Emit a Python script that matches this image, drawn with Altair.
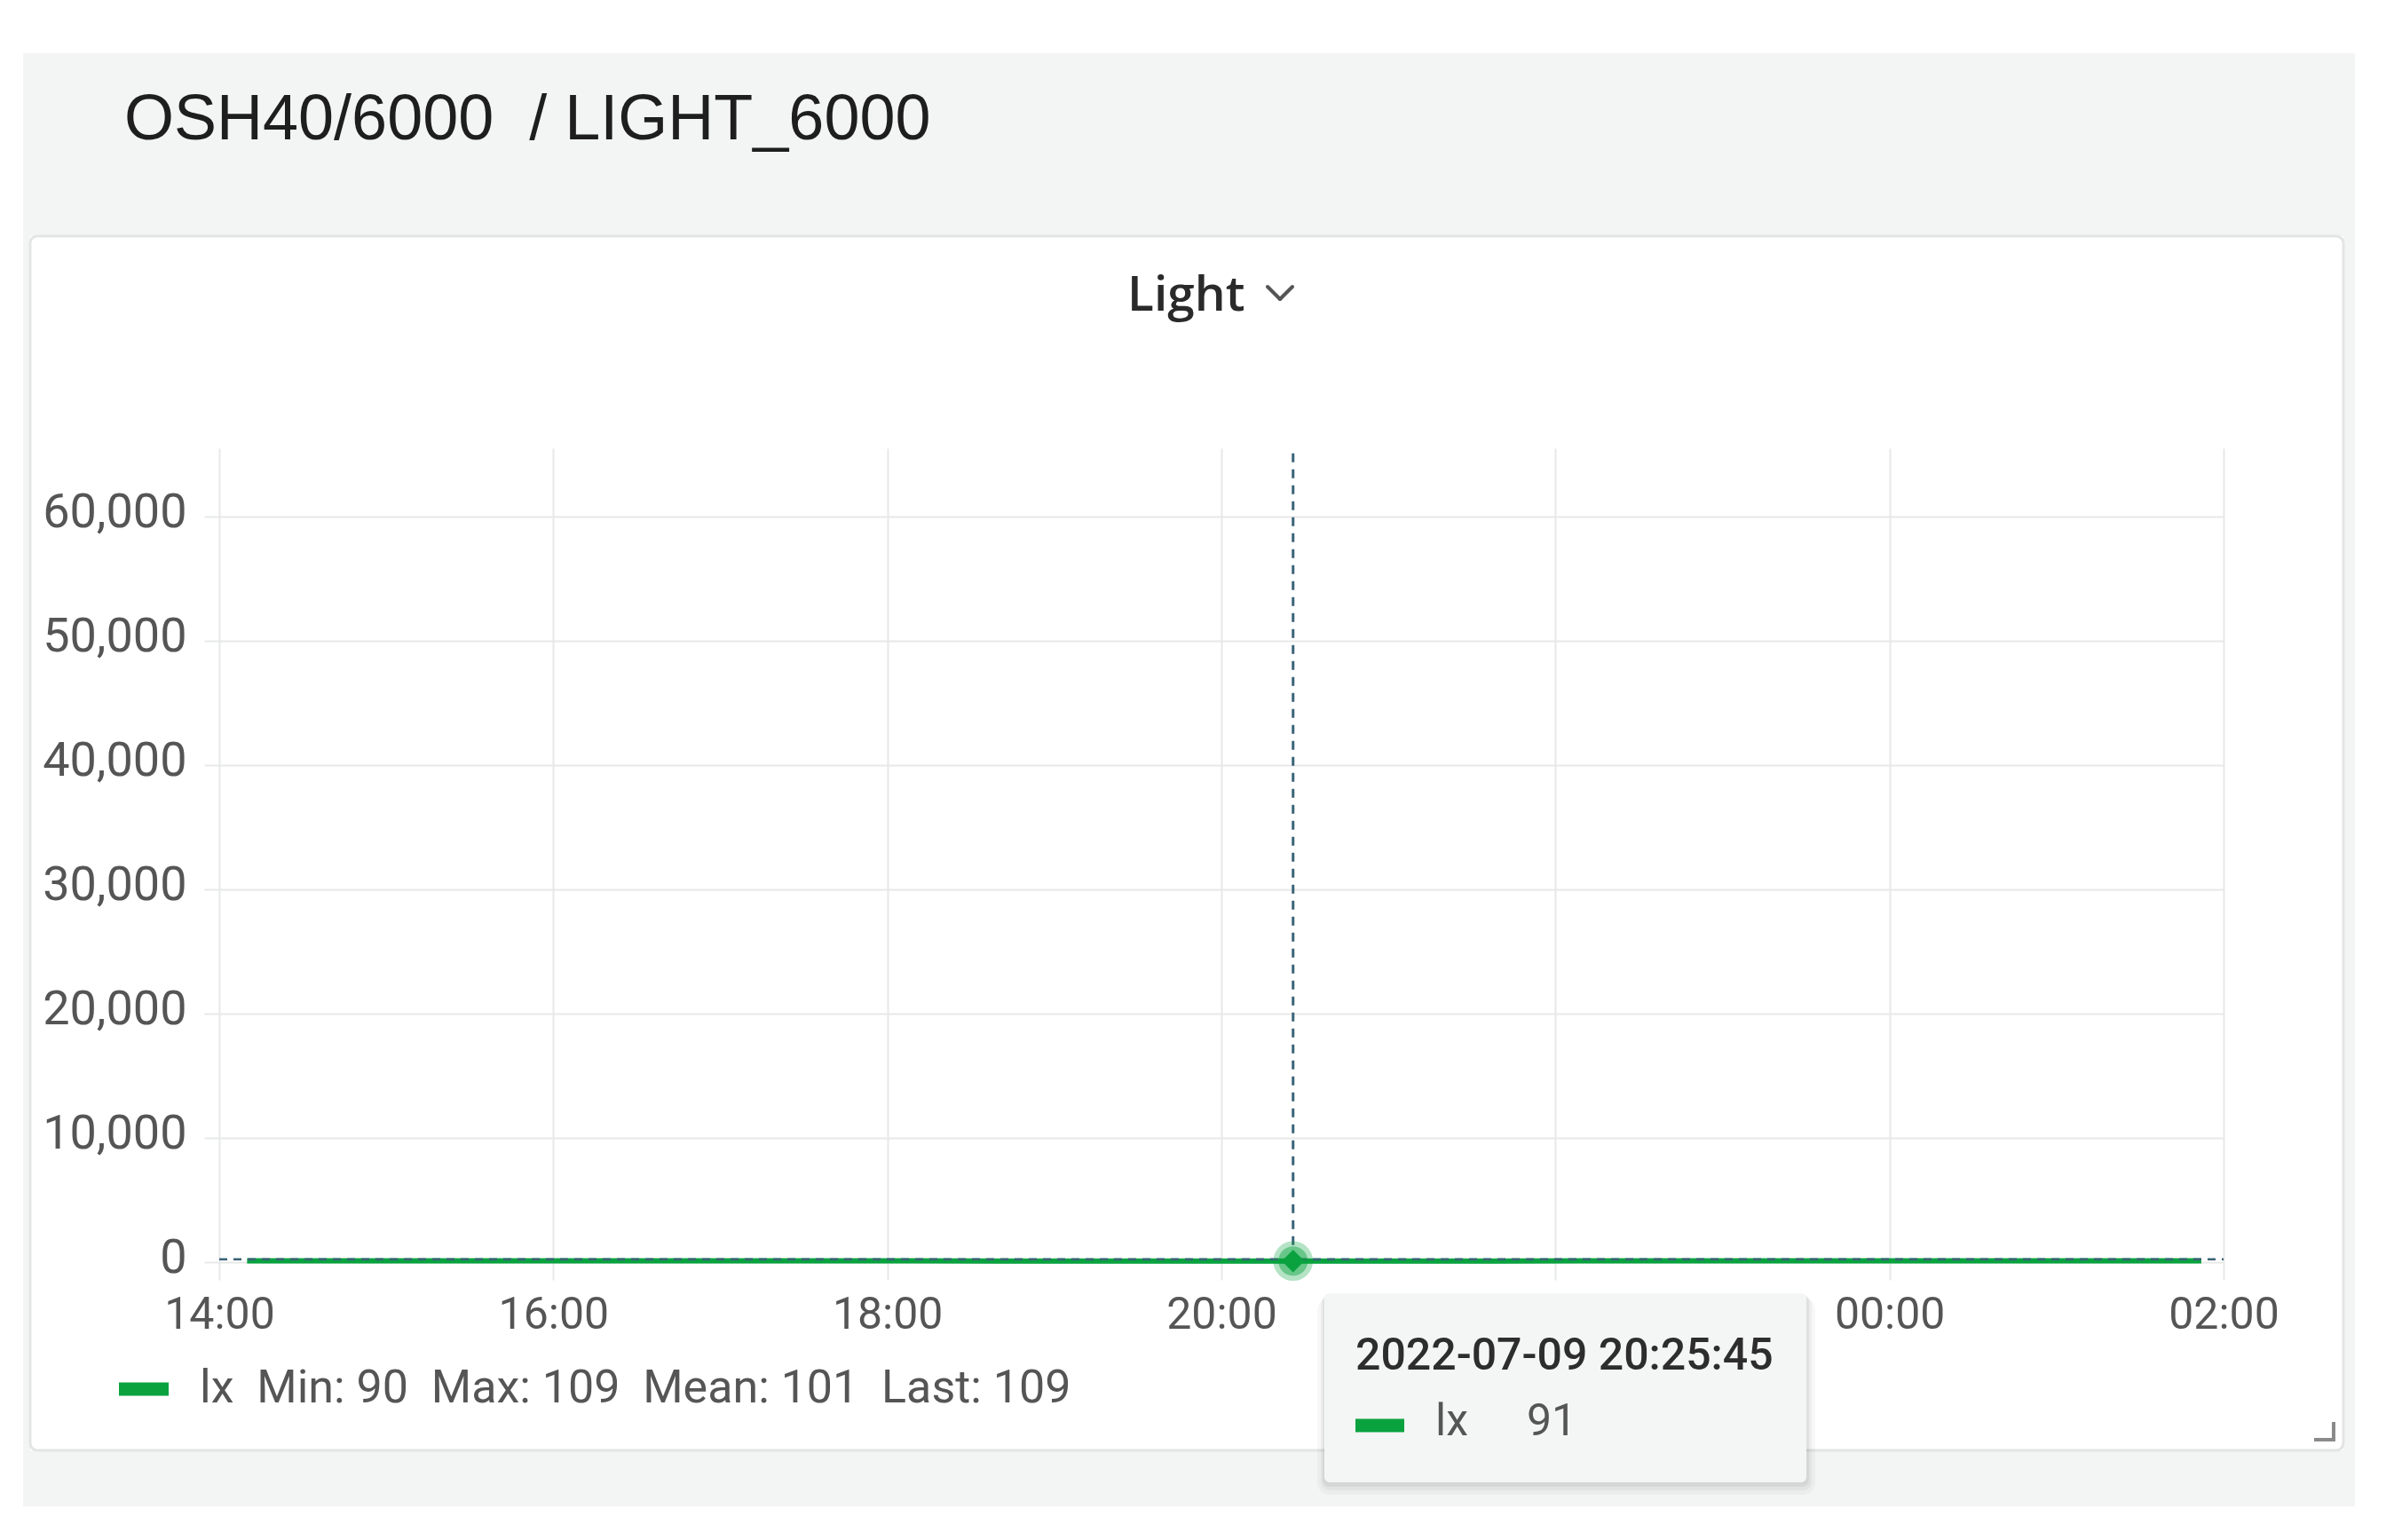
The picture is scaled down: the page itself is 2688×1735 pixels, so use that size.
import altair as alt
import pandas as pd

# ---------------- data ----------------
times = [
    "2022-07-09T14:10:00", "2022-07-09T14:40:00", "2022-07-09T15:10:00", "2022-07-09T15:40:00",
    "2022-07-09T16:10:00", "2022-07-09T16:40:00", "2022-07-09T17:10:00", "2022-07-09T17:40:00",
    "2022-07-09T18:10:00", "2022-07-09T18:40:00", "2022-07-09T19:10:00", "2022-07-09T19:40:00",
    "2022-07-09T20:10:00", "2022-07-09T20:25:45", "2022-07-09T20:40:00", "2022-07-09T21:10:00",
    "2022-07-09T21:40:00", "2022-07-09T22:10:00", "2022-07-09T22:40:00", "2022-07-09T23:10:00",
    "2022-07-09T23:40:00", "2022-07-10T00:10:00", "2022-07-10T00:40:00", "2022-07-10T01:10:00",
    "2022-07-10T01:40:00", "2022-07-10T01:52:00",
]
lux = [105, 107, 109, 106, 104, 103, 105, 102, 100, 98, 95, 93, 92,
       91, 90, 94, 97, 99, 101, 103, 104, 106, 107, 108, 109, 109]
series_name = "lx"
hover_time = "2022-07-09T20:25:45"
hover_label = "2022-07-09 20:25:45"
hover_value = 91
y_ticks = [0, 10000, 20000, 30000, 40000, 50000, 60000]
y_max = 65535
x_tick_hours = [(9, 14), (9, 16), (9, 18), (9, 20), (9, 22), (10, 0), (10, 2)]
page_title = "OSH40/6000\u00a0\u00a0/ LIGHT_6000"
panel_title = "Light"

GREEN = "#09a23f"
CROSS = "#3b6377"
GRAY_BG = "#f3f4f4"

stats = "{n}\u00a0\u00a0Min: {mn}\u00a0\u00a0Max: {mx}\u00a0\u00a0Mean: {me}\u00a0\u00a0Last: {la}".format(
    n=series_name, mn=min(lux), mx=max(lux), me=round(sum(lux) / len(lux)), la=lux[-1])

df = pd.DataFrame({"t": times, "v": lux})
hover = pd.DataFrame({"t": [hover_time], "v": [hover_value]})
one = pd.DataFrame({"k": [0]})

# ---------------- geometry ----------------
PW, PH = 2258, 917          # plot area
PL, PT = 239, 497           # padding left/top
PR = 2688 - 16 - PL - PW
PB = 1735 - 16 - PT - PH
OX, OY = PL + 8, PT + 8     # page position of plot origin


def X(px):
    return alt.value(px - OX)


def Y(py):
    return alt.value(py - OY)


def dt(d, h, m=0):
    return alt.DateTime(year=2022, month=7, date=d, hours=h, minutes=m)


x_enc = alt.X(
    "t:T",
    title=None,
    scale=alt.Scale(domain=[dt(9, 14), dt(10, 2)]),
    axis=alt.Axis(
        values=[dt(d, h) for d, h in x_tick_hours],
        format="%H:%M",
        labelExpr="datum.label == '22:00' ? '' : datum.label",
        grid=True, gridColor="#e7e8e8", gridWidth=2,
        ticks=True, tickSize=20, tickColor="#e7e8e8", tickWidth=2,
        domain=False, labelFont="Roboto", labelFontSize=50, labelColor="#555555",
        labelPadding=14, labelFlush=False, labelOverlap=False, zindex=0,
    ),
)
y_enc = alt.Y(
    "v:Q",
    title=None,
    scale=alt.Scale(domain=[0, y_max], nice=False, zero=True),
    axis=alt.Axis(
        values=y_ticks, format=",d",
        grid=True, gridColor="#e7e8e8", gridWidth=2,
        ticks=True, tickSize=17, tickColor="#e7e8e8", tickWidth=2,
        domain=False, labelFont="Roboto", labelFontSize=54, labelColor="#555555",
        labelPadding=20, labelOffset=-5, zindex=0,
    ),
)


def rect(x1, x2, y1, y2, **kw):
    return alt.Chart(one).mark_rect(**kw).encode(x=X(x1), x2=X(x2), y=Y(y1), y2=Y(y2))


def seg(x1, y1, x2, y2, **kw):
    return alt.Chart(one).mark_rule(**kw).encode(x=X(x1), x2=X(x2), y=Y(y1), y2=Y(y2))


def txt(s, px, py, **kw):
    return alt.Chart(one).mark_text(text=s, align="left", baseline="alphabetic", **kw).encode(
        x=X(px), y=Y(py))


layers = []
# gray dashboard frame around the white card
layers += [
    rect(26, 2653, 60, 266, color=GRAY_BG),
    rect(26, 34, 266, 1634, color=GRAY_BG),
    rect(2640, 2653, 266, 1634, color=GRAY_BG),
    rect(26, 2653, 1634, 1697, color=GRAY_BG),
    rect(34, 2640, 266, 1634, fillOpacity=0, stroke="#e3e5e5", strokeWidth=3, cornerRadius=8),
]
# titles
layers += [
    txt(page_title, 140, 157, font="Liberation Sans", fontSize=72, color="#1e1e1e"),
    txt(panel_title, 1270, 350, font="Open Sans", fontSize=55, fontWeight=600, color="#2a2a2a"),
    seg(1428, 323, 1442, 337, color="#555555", strokeWidth=4, strokeCap="round"),
    seg(1442, 337, 1456, 323, color="#555555", strokeWidth=4, strokeCap="round"),
]
# data line
layers.append(
    alt.Chart(df).mark_line(color=GREEN, strokeWidth=6, interpolate="linear").encode(x=x_enc, y=y_enc)
)
# crosshair
layers += [
    alt.Chart(hover).mark_rule(color=CROSS, strokeWidth=2.5, strokeDash=[9, 7], yOffset=-2).encode(
        y=y_enc, x=alt.value(0), x2=alt.value(PW)),
    alt.Chart(hover).mark_rule(color=CROSS, strokeWidth=3, strokeDash=[10, 8]).encode(
        x=x_enc, y=y_enc, y2=alt.value(0)),
    alt.Chart(hover).mark_point(filled=True, color=GREEN, opacity=0.3, size=2000, shape="circle").encode(
        x=x_enc, y=y_enc),
    alt.Chart(hover).mark_point(filled=True, color=GREEN, opacity=0.45, size=1100, shape="circle").encode(
        x=x_enc, y=y_enc),
    alt.Chart(hover).mark_point(filled=True, color=GREEN, opacity=1, size=650, shape="diamond").encode(
        x=x_enc, y=y_enc),
]
# legend
layers += [
    seg(134, 1565, 190, 1565, color=GREEN, strokeWidth=15),
    txt(stats, 225, 1580, font="Roboto", fontSize=52, color="#555555"),
]
# tooltip
layers += [
    rect(1484, 2045, 1462, 1684, color="#000000", opacity=0.03, cornerRadius=14),
    rect(1488, 2041, 1460, 1679, color="#000000", opacity=0.04, cornerRadius=10),
    rect(1490, 2038, 1458, 1675, color="#000000", opacity=0.05, cornerRadius=8),
    rect(1492, 2035, 1457, 1670, color="#f4f5f5", cornerRadius=6),
    txt(hover_label, 1527, 1543, font="Roboto", fontSize=50, fontWeight=500, color="#2d2d2d"),
    seg(1527, 1606, 1582, 1606, color=GREEN, strokeWidth=15),
    txt(series_name, 1617, 1617, font="Roboto", fontSize=50, color="#555555"),
    txt(str(hover_value), 1720, 1617, font="Roboto", fontSize=50, color="#555555"),
]
# resize handle
layers += [
    seg(2629, 1602, 2629, 1624, color="#8a8a8a", strokeWidth=4),
    seg(2607, 1622, 2631, 1622, color="#8a8a8a", strokeWidth=4),
]

chart = alt.layer(*layers).properties(
    width=PW, height=PH,
    autosize=alt.AutoSizeParams(type="none"),
    padding={"left": PL, "top": PT, "right": PR, "bottom": PB},
    background="#ffffff",
).configure_view(stroke=None)

chart.save("out.html", embed_options={"renderer": "svg", "actions": False})
